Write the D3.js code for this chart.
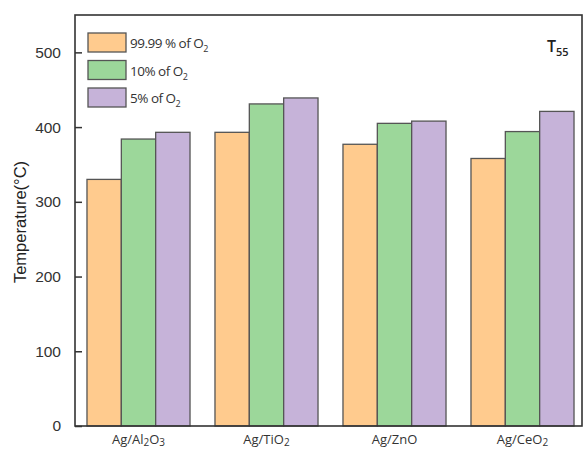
<!DOCTYPE html>
<html><head><meta charset="utf-8">
<script src="https://cdn.jsdelivr.net/npm/d3@7"></script>
<style>body{margin:0;background:#fff;}</style>
</head><body><svg id="c" width="584" height="452"></svg>
<script>
const categories = [["Ag/Al","2","O","3"],["Ag/TiO","2"],["Ag/ZnO"],["Ag/CeO","2"]];
const catKeys = ["Ag/Al2O3","Ag/TiO2","Ag/ZnO","Ag/CeO2"];
const seriesNames = ["99.99 % of O","10% of O","5% of O"];
const s9999 = [330, 393, 377, 358];
const s10 = [384, 431, 405, 394];
const s5 = [393, 439, 408, 421];
const colors = ["#FFCB8E","#9CD79A","#C6B3D9"];
const yTicks = [0,100,200,300,400,500];

(function(){
const series = [s9999, s10, s5];
const svg = d3.select("#c");
const pL = 75, pR = 582, pT = 15, pB = 426;
const y = d3.scaleLinear().domain([0,550]).range([pB, pT]);
const x0 = d3.scaleBand().domain(catKeys).range([74.5, 586.5]).paddingInner(0.195).paddingOuter(0.0975);
const x1 = d3.scaleBand().domain([0,1,2]).range([0, x0.bandwidth()]);

const g = svg.append("g");
catKeys.forEach((c, i) => {
  series.forEach((s, j) => {
    g.append("rect")
      .attr("x", x0(c) + x1(j))
      .attr("y", y(s[i]))
      .attr("width", x1.bandwidth())
      .attr("height", y(0) - y(s[i]))
      .attr("fill", colors[j])
      .attr("stroke", "#555")
      .attr("stroke-width", 1.3);
  });
});

svg.append("rect").attr("x", pL).attr("y", pT).attr("width", pR-pL).attr("height", pB-pT)
  .attr("fill","none").attr("stroke","#333").attr("stroke-width",1.6);

const yAxis = d3.axisLeft(y).tickValues(yTicks).tickSizeInner(-7).tickSizeOuter(0).tickPadding(14);
const ya = svg.append("g").attr("transform", `translate(${pL},0)`).call(yAxis);
ya.select(".domain").remove();
ya.selectAll(".tick line").attr("stroke","#333").attr("stroke-width",1.5);
ya.selectAll(".tick text").attr("font-family","Arial, 'Liberation Sans', sans-serif").attr("font-size",15.5).attr("fill","#333");

const xl = svg.append("g");
catKeys.forEach((c, i) => {
  const t = xl.append("text").attr("x", x0(c) + x0.bandwidth()/2).attr("y", 444)
    .attr("text-anchor","middle").attr("font-family","'Open Sans', sans-serif").attr("font-size",13).attr("fill","#333");
  let shifted = false;
  categories[i].forEach((p) => {
    const isSub = /^\d$/.test(p);
    const ts = t.append("tspan").text(p).attr("font-size", isSub ? 10 : 13);
    if (isSub && !shifted) { ts.attr("dy", 2); shifted = true; }
    else if (!isSub && shifted) { ts.attr("dy", -2); shifted = false; }
  });
});

svg.append("text").attr("transform","translate(26,222) rotate(-90)").attr("text-anchor","middle")
  .attr("font-family","Arial, 'Liberation Sans', sans-serif").attr("font-size",16.5).attr("fill","#222")
  .text("Temperature(°C)");

const lg = svg.append("g");
seriesNames.forEach((n, j) => {
  const yy = 33 + j*27.5;
  lg.append("rect").attr("x", 88).attr("y", yy).attr("width", 38).attr("height", 19)
    .attr("fill", colors[j]).attr("stroke","#555").attr("stroke-width",1.3);
  const t = lg.append("text").attr("x", 130).attr("y", yy + 15)
    .attr("font-family","'Open Sans', sans-serif").attr("font-size",13.5).attr("fill","#333").attr("letter-spacing","-0.5");
  t.append("tspan").text(n);
  t.append("tspan").text("2").attr("font-size",9).attr("dy",4);
});

const tt = svg.append("text").attr("x", 547).attr("y", 52).attr("font-family","'Open Sans', sans-serif")
  .attr("font-size",16).attr("font-weight",600).attr("fill","#222");
tt.append("tspan").text("T");
tt.append("tspan").text("55").attr("font-size",11).attr("dy",4);
})();
</script></body></html>
